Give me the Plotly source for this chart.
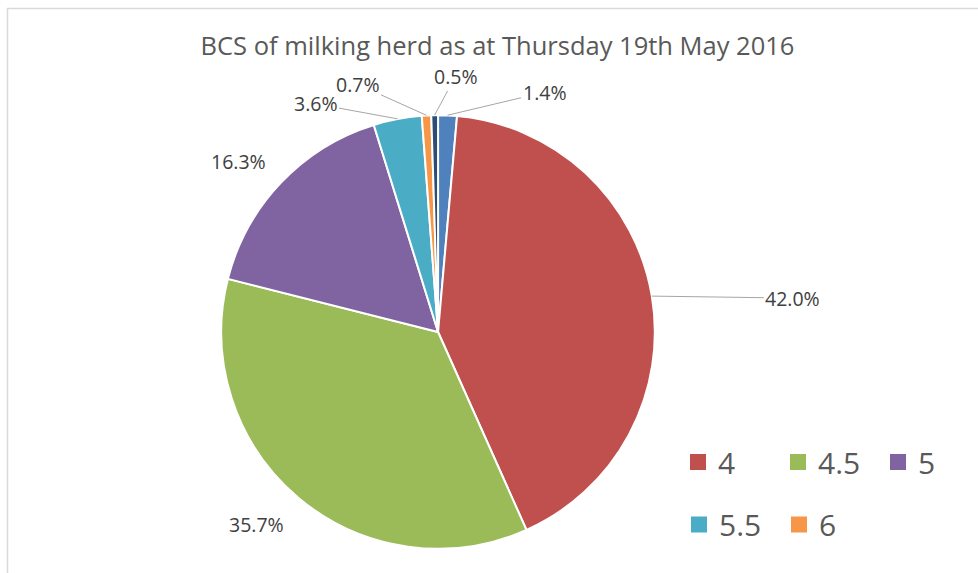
import math
import plotly.graph_objects as go

# ---- data ----
categories = ["3.5", "4", "4.5", "5", "5.5", "6", "6.5"]
percent_values = [1.4, 42.0, 35.7, 16.3, 3.6, 0.7, 0.5]
legend_row1 = ["4", "4.5", "5"]
legend_row2 = ["5.5", "6"]
title_text = "BCS of milking herd as at Thursday 19th May 2016"

# ---- styles ----
slice_colors = ["#4F81BD", "#C0504D", "#9BBB59", "#8064A2", "#4BACC6", "#F79646", "#2C4D75"]
color_of = dict(zip(categories, slice_colors))
# label placement (pixel offset from slice mid-edge, leader line flag)
label_style = [(97, -23, True), (141, 2, True), (-42, 26, False), (-42, -21, False),
               (-82, -15, True), (-69, -31, True), (21, -39, True)]

W, H = 978, 573
CX, CY, R = 438.5, 332.0, 217.0
FONT = "Open Sans"

fig = go.Figure()
fig.add_trace(go.Pie(
    labels=categories, values=percent_values, sort=False, direction="clockwise",
    rotation=0, textinfo="none", hoverinfo="skip", showlegend=False,
    marker=dict(colors=slice_colors, line=dict(color="white", width=2)),
    domain=dict(x=[(CX - R) / W, (CX + R) / W], y=[(H - CY - R) / H, (H - CY + R) / H]),
))

# legend entries through dummy traces (two rows = two legends)
for name in legend_row1:
    fig.add_trace(go.Scatter(x=[None], y=[None], mode="markers", name=name,
                             marker=dict(symbol="square", size=16, color=color_of[name]),
                             legend="legend"))
for name in legend_row2:
    fig.add_trace(go.Scatter(x=[None], y=[None], mode="markers", name=name,
                             marker=dict(symbol="square", size=16, color=color_of[name]),
                             legend="legend2"))

# data labels
total = sum(percent_values)
cum = 0.0
annotations = []
for v, (dx, dy, arrow) in zip(percent_values, label_style):
    mid = (cum + v / 2) / total * 2 * math.pi
    cum += v
    px = CX + R * math.sin(mid)
    py = CY - R * math.cos(mid)
    txt = f"{v:.1f}%"
    if arrow:
        annotations.append(dict(x=px / W, y=1 - py / H, xref="paper", yref="paper",
                                text=txt, showarrow=True, ax=dx, ay=dy, arrowhead=0,
                                arrowwidth=1, arrowcolor="#A6A6A6", standoff=0,
                                font=dict(family=FONT, size=19.5, color="#404040")))
    else:
        annotations.append(dict(x=(px + dx) / W, y=1 - (py + dy) / H, xref="paper", yref="paper",
                                text=txt, showarrow=False, xanchor="center", yanchor="middle",
                                font=dict(family=FONT, size=19.5, color="#404040")))

legend_common = dict(orientation="h", xanchor="left", yanchor="middle",
                     font=dict(family=FONT, size=30, color="#595959"),
                     entrywidth=55, entrywidthmode="pixels", bgcolor="rgba(0,0,0,0)",
                     itemclick=False, itemdoubleclick=False)

fig.update_layout(
    width=W, height=H, margin=dict(l=0, r=0, t=0, b=0),
    paper_bgcolor="white", plot_bgcolor="white",
    title=dict(text=title_text, x=498 / W, y=1 - 46 / H, xanchor="center", yanchor="middle",
               xref="paper", yref="paper",
               font=dict(family=FONT, size=25.5, color="#595959")),
    xaxis=dict(visible=False), yaxis=dict(visible=False),
    legend=dict(x=679 / W, y=1 - 462 / H, **legend_common),
    legend2=dict(x=679 / W, y=1 - 524.5 / H, **legend_common),
    annotations=annotations,
    shapes=[dict(type="rect", xref="paper", yref="paper", x0=7.5 / W, x1=1.05,
                 y0=-0.05, y1=1 - 8.5 / H, line=dict(color="#D9D9D9", width=1.5),
                 fillcolor="rgba(0,0,0,0)", layer="below")],
)

fig.write_html("out.html", config={"displayModeBar": False},
               post_script="document.body.style.margin='0';document.body.style.overflow='hidden';")
